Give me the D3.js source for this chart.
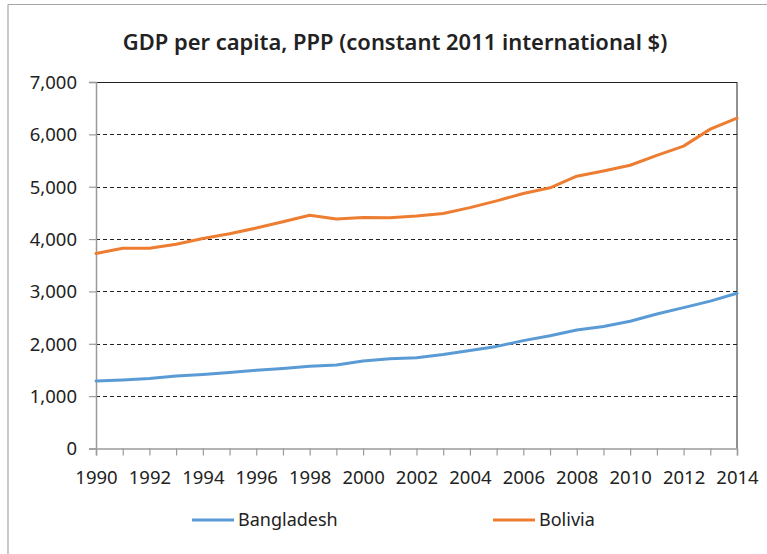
<!DOCTYPE html>
<html>
<head>
<meta charset="utf-8">
<script src="https://cdn.jsdelivr.net/npm/d3@7"></script>
<style>
  html, body { margin: 0; padding: 0; background: #fff; }
  svg { display: block; }
  text { font-family: "Noto Sans", "Open Sans", sans-serif; fill: #222; }
</style>
</head>
<body>
<svg id="chart" width="767" height="554"></svg>
<script>
const years = [1990,1991,1992,1993,1994,1995,1996,1997,1998,1999,2000,2001,2002,2003,2004,2005,2006,2007,2008,2009,2010,2011,2012,2013,2014];
const bangladesh = [1290,1310,1335,1385,1415,1450,1495,1530,1570,1595,1670,1715,1735,1795,1870,1950,2060,2155,2265,2330,2430,2570,2690,2815,2965];
const bolivia = [3725,3825,3825,3900,4010,4100,4210,4330,4455,4385,4410,4405,4440,4490,4600,4730,4870,4980,5200,5300,5410,5600,5775,6100,6310];
const yTicks = [0,1000,2000,3000,4000,5000,6000,7000];
const xLabelYears = [1990,1992,1994,1996,1998,2000,2002,2004,2006,2008,2010,2012,2014];
const seriesNames = ["Bangladesh", "Bolivia"];
const seriesColors = ["#5B9BD5", "#ED7D31"];

(function () {
const svg = d3.select("#chart");
const W = 767, H = 554;
const pl = 96, pr = 737, pt = 82, pb = 448.5;

// outer border (chart area frame)
svg.append("line").attr("x1", 8).attr("x2", W).attr("y1", 4.5).attr("y2", 4.5).attr("stroke", "#a6a6a6").attr("stroke-width", 1.2);
svg.append("line").attr("x1", 8).attr("x2", 8).attr("y1", 4.5).attr("y2", H).attr("stroke", "#a6a6a6").attr("stroke-width", 1.2);

const x = d3.scaleLinear().domain([1990, 2014]).range([pl, pr]);
const y = d3.scaleLinear().domain([0, 7000]).range([pb, pt]);

// gridlines (dashed) for 1000..6000
svg.append("g").selectAll("line").data(yTicks.filter(d => d > 0 && d < 7000)).join("line")
  .attr("x1", pl).attr("x2", pr)
  .attr("y1", d => Math.round(y(d)) + 0.5).attr("y2", d => Math.round(y(d)) + 0.5)
  .attr("stroke", "#222").attr("stroke-width", 1).attr("stroke-dasharray", "4,3");

// top and right plot border (solid black)
svg.append("line").attr("x1", pl).attr("x2", pr).attr("y1", Math.round(y(7000)) + 0.5).attr("y2", Math.round(y(7000)) + 0.5).attr("stroke", "#222").attr("stroke-width", 1);
svg.append("line").attr("x1", pr).attr("x2", pr).attr("y1", y(7000)).attr("y2", pb).attr("stroke", "#222").attr("stroke-width", 1);

// y axis
const yAxis = d3.axisLeft(y).tickValues(yTicks).tickSize(7).tickPadding(12)
  .tickFormat(d3.format(","));
const gy = svg.append("g").attr("transform", `translate(${pl},0)`).call(yAxis);
gy.select(".domain").attr("stroke", "#9a9a9a").attr("stroke-width", 1.5);
gy.selectAll(".tick line").attr("stroke", "#9a9a9a").attr("stroke-width", 1.2);
gy.selectAll(".tick text").style("font-size", "18.5px").attr("fill", "#222").attr("dy", "0.34em");

// x axis
const xAxis = d3.axisBottom(x).tickValues(years).tickSize(7).tickPadding(15)
  .tickFormat(d => xLabelYears.includes(d) ? String(d) : "");
const gx = svg.append("g").attr("transform", `translate(0,${pb})`).call(xAxis);
gx.select(".domain").attr("stroke", "#9a9a9a").attr("stroke-width", 1.5);
gx.selectAll(".tick line").attr("stroke", "#9a9a9a").attr("stroke-width", 1.2);
gx.selectAll(".tick text").style("font-size", "18.5px").attr("fill", "#222");

// lines
const line = d3.line().x((d, i) => x(years[i])).y(d => y(d));
[bangladesh, bolivia].forEach((s, k) => {
  svg.append("path").datum(s).attr("d", line)
    .attr("fill", "none").attr("stroke", seriesColors[k]).attr("stroke-width", 3)
    .attr("stroke-linejoin", "round").attr("stroke-linecap", "round");
});

// title
const title = svg.append("text").attr("x", 395).attr("y", 50).attr("text-anchor", "middle")
  .style("font-size", "20px").style("font-weight", "600")
  .text("GDP per capita, PPP (constant 2011 international $)");
const tw = title.node().getComputedTextLength();
title.style("font-size", (20 * 545 / tw) + "px");

// legend
const legendX = [192, 493];
seriesNames.forEach((n, k) => {
  svg.append("line").attr("x1", legendX[k]).attr("x2", legendX[k] + 42)
    .attr("y1", 520).attr("y2", 520).attr("stroke", seriesColors[k]).attr("stroke-width", 3);
  svg.append("text").attr("x", legendX[k] + 46).attr("y", 526).style("font-size", "18px").text(n);
});
})();
</script>
</body>
</html>
